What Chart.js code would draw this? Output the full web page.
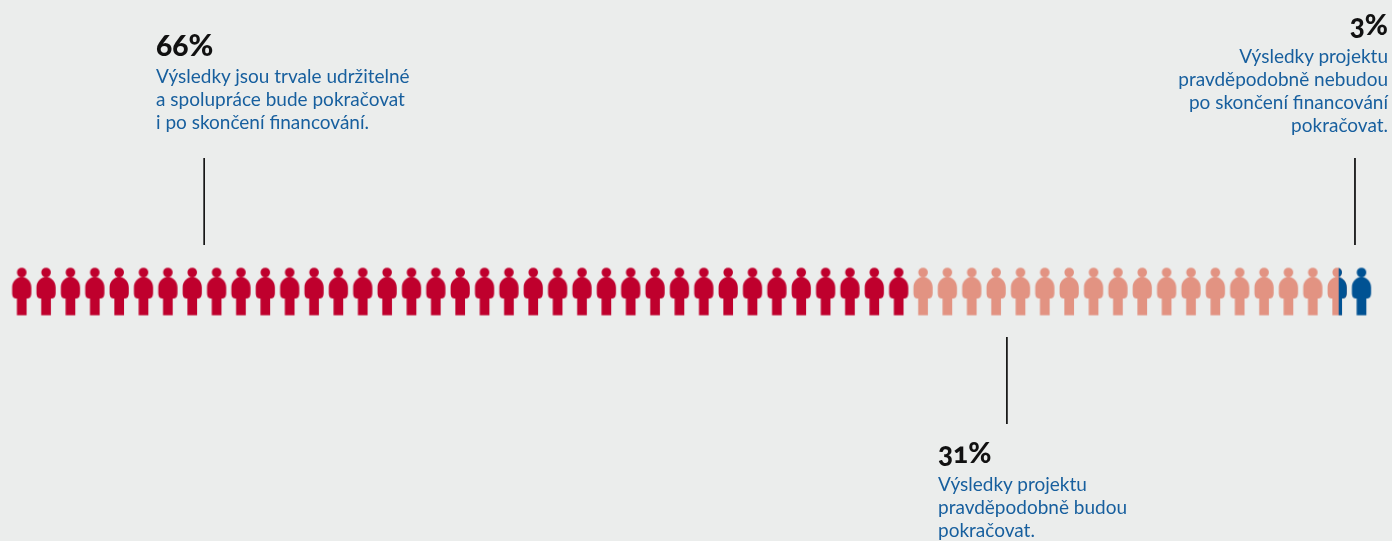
<!DOCTYPE html>
<html><head><meta charset="utf-8">
<script src="https://cdn.jsdelivr.net/npm/chart.js@4"></script>
<style>
html,body{margin:0;padding:0;background:#ebedec;width:1392px;height:541px;overflow:hidden}
#wrap{position:relative;width:1392px;height:541px}
canvas{position:absolute;left:0;top:0}
.n{position:absolute;color:#175f9e;font:19px/23px "Lato",sans-serif;white-space:nowrap}
.n b{display:block;color:#111;font:900 30px/30px "Lato",sans-serif;font-variant-numeric:oldstyle-nums;font-feature-settings:"onum" 1;margin-bottom:5px}
#d b,#b b{font-size:28px}
.r{text-align:right}
</style></head><body>
<div id="wrap"><canvas id="c" width="1392" height="541"></canvas>
<div class="n" id="a" style="left:156px;top:29px"></div>
<div class="n r" id="b" style="right:4px;top:9px"></div>
<div class="n" id="d" style="left:938px;top:437px"></div>
</div>
<script>
const sharePercent=[66,31,3];
const shareNotes=[
 ["Výsledky jsou trvale udržitelné","a spolupráce bude pokračovat","i po skončení financování."],
 ["Výsledky projektu","pravděpodobně budou","pokračovat."],
 ["Výsledky projektu","pravděpodobně nebudou","po skončení financování","pokračovat."]];
const redPeople=[0,1,2,3,4,5,6,7,8,9,10,11,12,13,14,15,16,17,18,19,20,21,22,23,24,25,26,27,28,29,30,31,32,33,34,35,36];
const lightPeople=[37,38,39,40,41,42,43,44,45,46,47,48,49,50,51,52,53];
const splitPeople=[54];
const bluePeople=[55];
const leaderX=[7.5,40.45,54.74];
const leaderY=[[158,245],[337,424],[158,245]];
const rowY=291.5;
const RED="#bf002d",LIGHT="#e29382",BLUE="#005293";

function person(left,right,split){
  const W=24,H=52,c=document.createElement("canvas");c.width=W;c.height=H;
  const x=c.getContext("2d"),m=W/2+0.2;
  const shape=()=>{x.beginPath();
    x.arc(m,7,4.8,0,Math.PI*2);x.closePath();
    x.moveTo(m-4.85,49.8);x.lineTo(m-4.85,33);
    x.lineTo(m-6,33);
    x.bezierCurveTo(m-8.5,32.8,m-9.6,31,m-9.6,27);
    x.lineTo(m-9.6,22);
    x.bezierCurveTo(m-9.6,16,m-5,11.6,m,11.6);
    x.bezierCurveTo(m+5,11.6,m+9.6,16,m+9.6,22);
    x.lineTo(m+9.6,27);
    x.bezierCurveTo(m+9.6,31,m+8.5,32.8,m+6,33);
    x.lineTo(m+4.85,33);
    x.lineTo(m+4.85,49.8);x.closePath();};
  x.save();shape();x.clip();
  x.fillStyle=left;x.fillRect(0,0,W,H);
  if(split!==undefined){x.fillStyle=right;x.fillRect(m+split,0,W,H);}
  x.restore();
  return c;
}
const onRow=a=>a.map(i=>({x:i,y:rowY}));
const people=(label,list,style)=>({label,data:onRow(list),pointStyle:style,pointRadius:12,showLine:false});
const leader=i=>({label:"leader"+i,data:leaderY[i].map(y=>({x:leaderX[i],y})),showLine:true,borderColor:"#111",borderWidth:1,pointRadius:0});

new Chart(document.getElementById("c"),{
 type:"scatter",
 data:{datasets:[
   people("66 %",redPeople,person(RED)),
   people("31 %",lightPeople,person(LIGHT)),
   people("split",splitPeople,person(LIGHT,BLUE,1.5)),
   people("3 %",bluePeople,person(BLUE)),
   leader(0),leader(1),leader(2)]},
 options:{responsive:false,animation:false,
  layout:{padding:0,autoPadding:false},
  plugins:{legend:{display:false},tooltip:{enabled:false}},
  scales:{
   x:{type:"linear",display:false,min:-0.8826,max:56.2603},
   y:{type:"linear",display:false,min:0,max:541,reverse:true}}}
});
function fill(id,i){const el=document.getElementById(id);
  el.innerHTML="<b>"+sharePercent[i]+"%</b>"+shareNotes[i].join("<br>");}
fill("a",0);fill("d",1);fill("b",2);
</script></body></html>
